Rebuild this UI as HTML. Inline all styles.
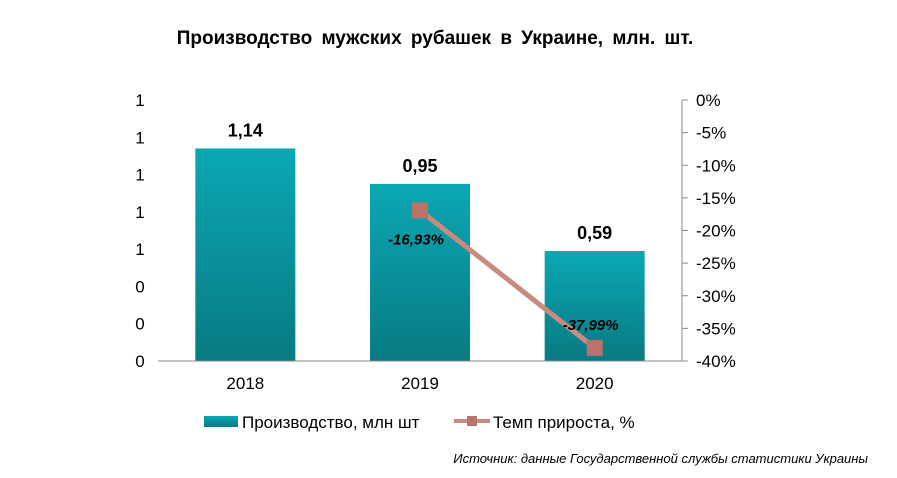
<!DOCTYPE html>
<html><head><meta charset="utf-8"><style>
body{margin:0;background:#fff;width:897px;height:473px;overflow:hidden;font-family:"Liberation Sans",Arial,sans-serif}
</style></head><body>
<svg width="897" height="473" xmlns="http://www.w3.org/2000/svg" font-family="Liberation Sans, Arial, sans-serif">
<defs>
<linearGradient id="bg" x1="0" y1="0" x2="0" y2="1"><stop offset="0" stop-color="#0aa8b4"/><stop offset="1" stop-color="#087a82"/></linearGradient>
</defs>
<text x="435" y="44" text-anchor="middle" font-size="19" font-weight="bold" word-spacing="4">Производство мужских рубашек в Украине, млн. шт.</text>
<g id="chart"></g>
<g>
<rect x="204" y="416" width="34" height="11" fill="url(#bg)"/>
<text x="242" y="428" font-size="17">Производство, млн шт</text>
<line x1="454" y1="421" x2="490" y2="421" stroke="#c98a80" stroke-width="4"/>
<rect x="467" y="416" width="10" height="10" fill="#b9736b"/>
<text x="493" y="428" font-size="17">Темп прироста, %</text>
</g>
<text x="868" y="463" text-anchor="end" font-size="13" font-style="italic">Источник: данные Государственной службы статистики Украины</text>
</svg>
<script>
const categories=["2018","2019","2020"];
const production=[1.14,0.95,0.59];
const prodLabels=["1,14","0,95","0,59"];
const growth=[null,-16.93,-37.99];
const growthLabels=["","-16,93%","-37,99%"];
const leftTicks=[0,0.2,0.4,0.6,0.8,1,1.2,1.4];
const leftTickLabels=["0","0","0","1","1","1","1","1"];
const rightTicks=[0,-5,-10,-15,-20,-25,-30,-35,-40];
const ns="http://www.w3.org/2000/svg";
const g=document.getElementById("chart");
const X0=158,X1=682,Y0=361,Y1=100;
const bw=(X1-X0)/categories.length;
const xC=i=>X0+bw*(i+0.5);
const yL=v=>Y0-(v/1.4)*(Y0-Y1);
const yR=v=>Y1+(-v/40)*(Y0-Y1);
function mk(t,a,txt){const e=document.createElementNS(ns,t);for(const k in a)e.setAttribute(k,a[k]);if(txt!==undefined)e.textContent=txt;g.appendChild(e);return e;}
leftTicks.forEach((v,i)=>{const e=mk("text",{x:140,y:yL(v)+6,"text-anchor":"middle","font-size":"17"},leftTickLabels[i]);

});
rightTicks.forEach(v=>{const t=mk("line",{x1:X1,x2:X1+6,y1:yR(v),y2:yR(v),stroke:"#888"});
const e=mk("text",{x:X1+14,y:yR(v)+6,"font-size":"17"},v+"%");

});
const ax=mk("line",{x1:X1,x2:X1,y1:Y1,y2:Y0,stroke:"#888"});


production.forEach((v,i)=>{
const r=mk("rect",{x:xC(i)-50,y:yL(v),width:100,height:Y0-yL(v),fill:"url(#bg)"});


const t=mk("text",{x:xC(i),y:yL(v)-12,"text-anchor":"middle","font-size":"18","font-weight":"bold"},prodLabels[i]);


const c=mk("text",{x:xC(i),y:Y0+28,"text-anchor":"middle","font-size":"17"},categories[i]);


});
const ax2=mk("line",{x1:X0,x2:X1,y1:Y0,y2:Y0,stroke:"#888"});


let pts=[];growth.forEach((v,i)=>{if(v!==null)pts.push([xC(i),yR(v)]);});
const pl=mk("polyline",{points:pts.map(p=>p.join(",")).join(" "),fill:"none",stroke:"#c98a80","stroke-width":"5"});


growth.forEach((v,i)=>{if(v===null)return;
const m=mk("rect",{x:xC(i)-8,y:yR(v)-8,width:16,height:16,fill:"#b9736b"});


const t=mk("text",{x:xC(i)-4,y:yR(v)+(i===1?34:-18),"text-anchor":"middle","font-size":"15","font-weight":"bold","font-style":"italic"},growthLabels[i]);


});
</script>
</body></html>
